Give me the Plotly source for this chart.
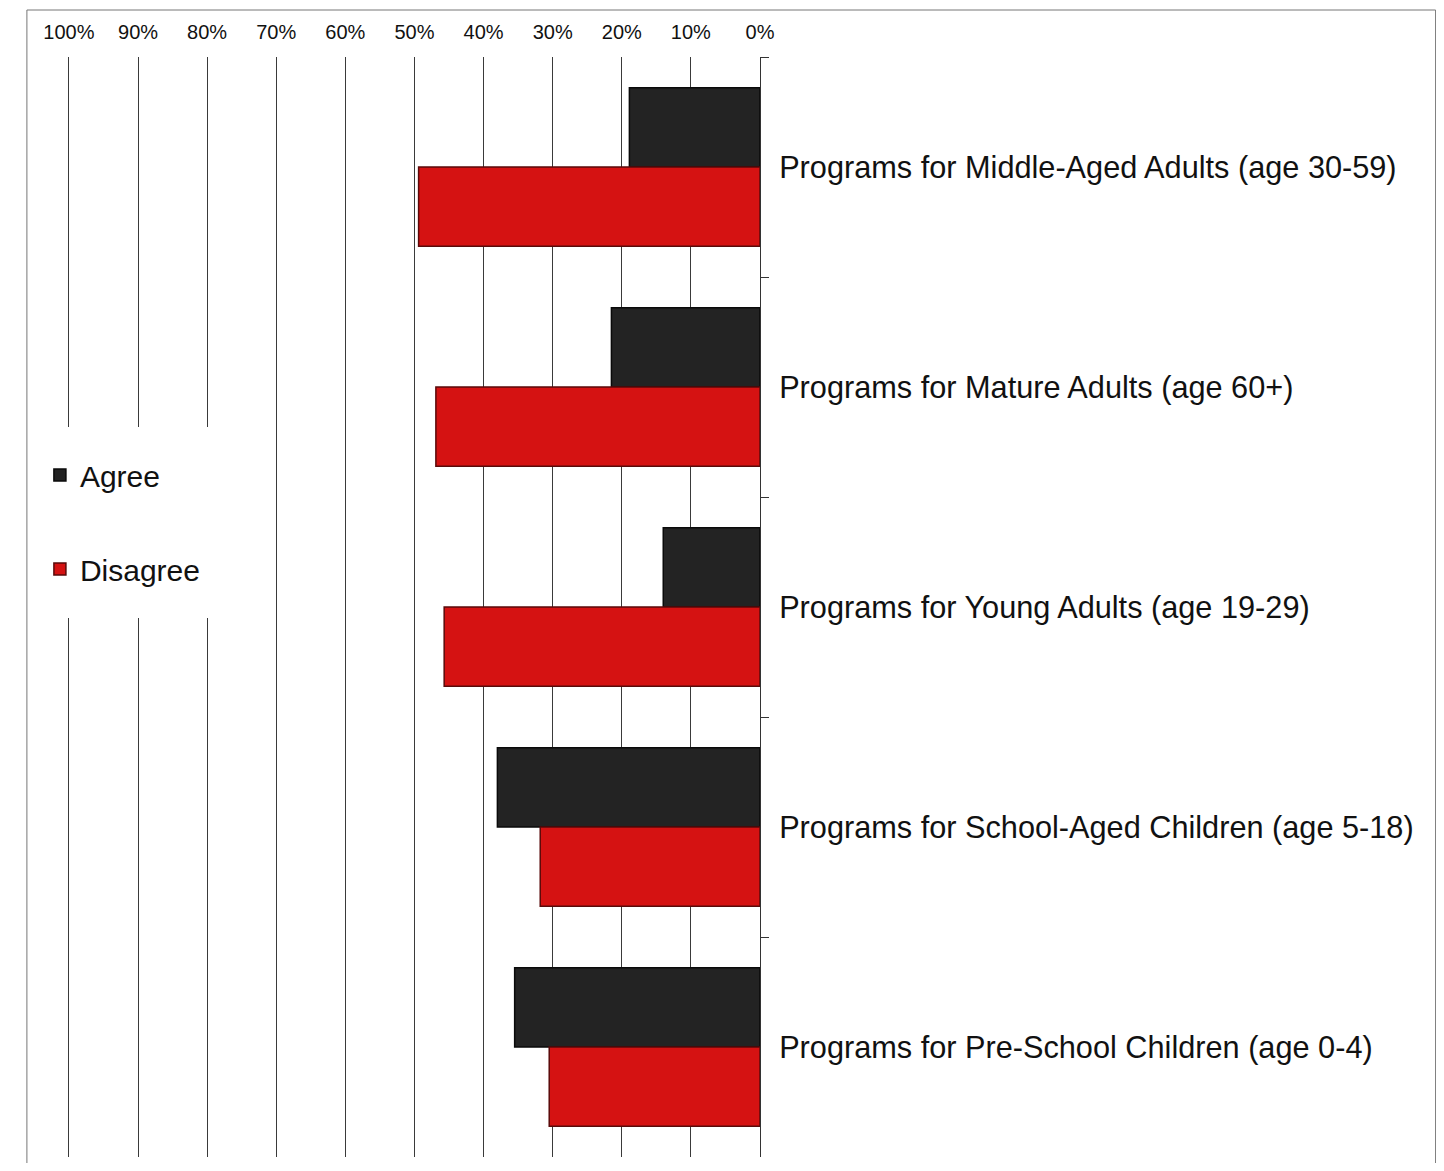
import plotly.graph_objects as go

categories = [
    "Programs for Middle-Aged Adults (age 30-59)",
    "Programs for Mature Adults (age 60+)",
    "Programs for Young Adults (age 19-29)",
    "Programs for School-Aged Children (age 5-18)",
    "Programs for Pre-School Children (age 0-4)",
]
agree = [18.9, 21.5, 14.0, 38.0, 35.5]
disagree = [49.4, 46.9, 45.7, 31.8, 30.5]
tick_vals = [0, 10, 20, 30, 40, 50, 60, 70, 80, 90, 100]
tick_text = [f"{v}%" for v in tick_vals]

OFF = 8                 # page body margin
W, H = 1428, 1155       # figure size (page minus body margins)
XMAX = 101.0            # slight padding so the 100% gridline is drawn
PPU = 6.91              # pixels per percent
R_PAGE, T_PAGE, B_PAGE = 760, 57, 1157
L_PAGE = R_PAGE - XMAX * PPU
L, R, T, B = L_PAGE - OFF, R_PAGE - OFF, T_PAGE - OFF, B_PAGE - OFF

def px(x_page):
    return (x_page - OFF - L) / (R - L)

def py(y_page):
    return (B - (y_page - OFF)) / (B - T)

fig = go.Figure()
fig.add_trace(go.Bar(
    name="Agree", y=categories, x=agree, orientation="h",
    marker=dict(color="#232323", line=dict(color="#0a0a0a", width=1.5)),
    legendgroup="a",
))
fig.add_trace(go.Bar(
    name="Disagree", y=categories, x=disagree, orientation="h",
    marker=dict(color="#d51212", line=dict(color="#5a0a0a", width=1.5)),
    legendgroup="d",
))

fig.update_layout(
    width=W, height=H,
    margin=dict(l=L, r=W - R, t=T, b=H - B, pad=0),
    paper_bgcolor="white", plot_bgcolor="white",
    barmode="group", bargap=0.28, bargroupgap=0,
    font=dict(family="Liberation Sans, Arial, sans-serif", color="#111111"),
    xaxis=dict(
        range=[XMAX, 0], side="top", tickvals=tick_vals, ticktext=tick_text,
        tickfont=dict(size=20), showgrid=True, gridcolor="#3a3a3a", gridwidth=1,
        zeroline=False, showline=False, ticks="outside", ticklen=9,
        tickcolor="rgba(0,0,0,0)",
    ),
    yaxis=dict(
        autorange="reversed", side="right", tickson="boundaries",
        ticks="outside", ticklen=8, tickcolor="#333333",
        showline=True, linecolor="#333333", linewidth=1,
        tickfont=dict(size=30.7), ticklabelstandoff=12, showgrid=False,
    ),
    legend=dict(
        x=px(40), y=py(449), xanchor="left", yanchor="top",
        bgcolor="rgba(0,0,0,0)", font=dict(size=30),
        traceorder="grouped", tracegroupgap=52,
    ),
    showlegend=True,
    shapes=[
        dict(type="rect", xref="paper", yref="paper",
             x0=px(30), x1=px(245), y0=py(618), y1=py(427),
             fillcolor="white", line=dict(width=0), layer="above"),
        dict(type="rect", xref="paper", yref="paper",
             x0=px(27), x1=px(1435.5), y0=py(1190), y1=py(10),
             fillcolor="rgba(0,0,0,0)", line=dict(color="#777777", width=1),
             layer="above"),
    ],
)

fig.write_html("out.html")
